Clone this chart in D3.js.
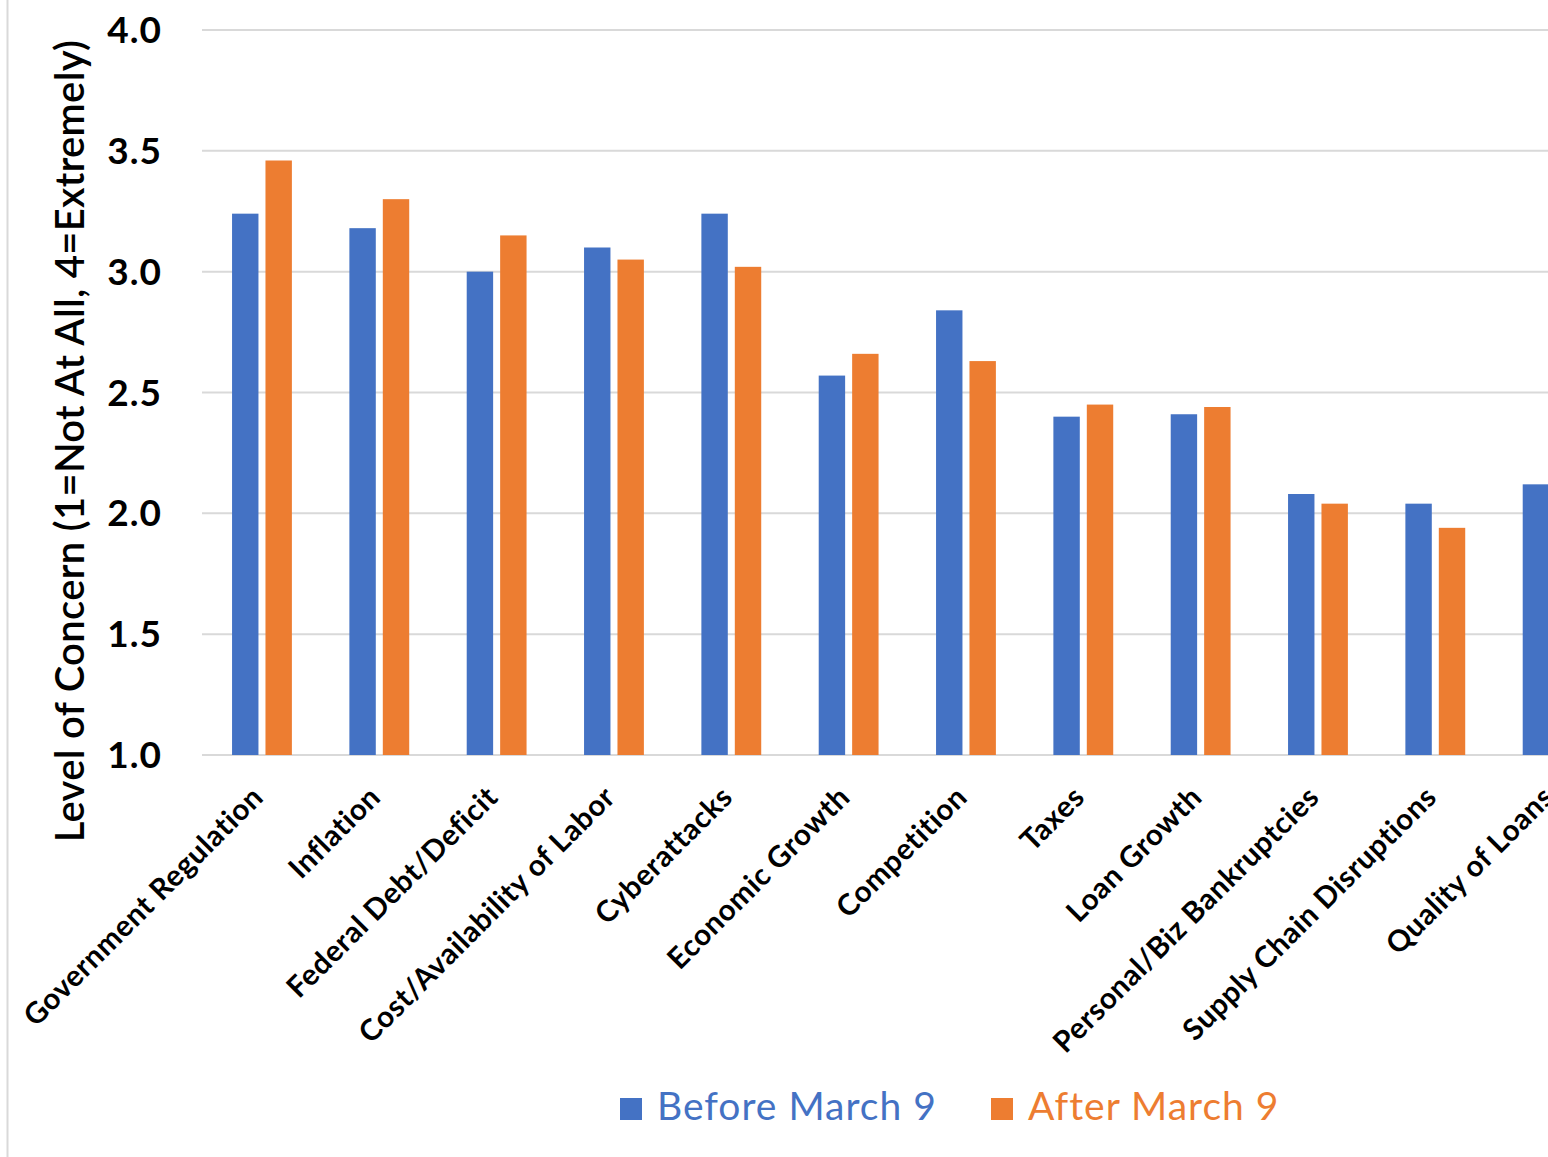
<!DOCTYPE html>
<html>
<head>
<meta charset="utf-8">
<script src="https://cdn.jsdelivr.net/npm/d3@7"></script>
<style>
  html, body { margin: 0; padding: 0; background: #fff; }
  svg { display: block; font-family: Lato, "Open Sans", sans-serif; }
</style>
</head>
<body>
<svg id="chart" width="1548" height="1157"></svg>
<script>
const categories = [
  "Government Regulation", "Inflation", "Federal Debt/Deficit", "Cost/Availability of Labor",
  "Cyberattacks", "Economic Growth", "Competition", "Taxes", "Loan Growth",
  "Personal/Biz Bankruptcies", "Supply Chain Disruptions", "Quality of Loans"
];
const beforeMarch9 = [3.24, 3.18, 3.00, 3.10, 3.24, 2.57, 2.84, 2.40, 2.41, 2.08, 2.04, 2.12];
const afterMarch9  = [3.46, 3.30, 3.15, 3.05, 3.02, 2.66, 2.63, 2.45, 2.44, 2.04, 1.94, 2.05];
const seriesNames = ["Before March 9", "After March 9"];
const seriesColors = ["#4472C4", "#ED7D31"];
const yTicks = [1.0, 1.5, 2.0, 2.5, 3.0, 3.5, 4.0];
const yTitle = "Level of Concern (1=Not At All, 4=Extremely)";

const svg = d3.select("#chart");

// frame line on the left
svg.append("line").attr("x1", 7.5).attr("x2", 7.5).attr("y1", 0).attr("y2", 1157)
  .attr("stroke", "#d9d9d9").attr("stroke-width", 2);

const y = d3.scaleLinear().domain([1, 4]).range([755, 30]);
const x = d3.scaleBand().domain(categories).range([203.3, 1611.3])
  .paddingInner(0.49).paddingOuter(0.245);
const xs = d3.scaleBand().domain(seriesNames).range([0, x.bandwidth()]).paddingInner(0.21);

// gridlines
svg.append("g").selectAll("line").data(yTicks).join("line")
  .attr("x1", 202).attr("x2", 1620)
  .attr("y1", d => y(d)).attr("y2", d => y(d))
  .attr("stroke", "#d9d9d9").attr("stroke-width", 2);

// y tick labels
const yAxis = d3.axisLeft(y).tickValues(yTicks).tickFormat(d3.format(".1f")).tickSize(0).tickPadding(0);
const gy = svg.append("g").attr("transform", "translate(162,0)").call(yAxis);
gy.select(".domain").remove();
gy.selectAll("text").attr("font-family", "Lato, sans-serif").attr("font-size", 37)
  .attr("font-weight", "bold").attr("fill", "#000").attr("dy", "0.34em")
  .attr("letter-spacing", 1);

// bars
const rows = categories.map((c, i) => ({ cat: c, vals: [beforeMarch9[i], afterMarch9[i]] }));
const groups = svg.append("g").selectAll("g").data(rows).join("g")
  .attr("transform", d => `translate(${x(d.cat)},0)`);
groups.selectAll("rect").data(d => d.vals.map((v, j) => ({ name: seriesNames[j], v, j })))
  .join("rect")
  .attr("x", d => xs(d.name))
  .attr("width", xs.bandwidth())
  .attr("y", d => y(d.v))
  .attr("height", d => y(1) - y(d.v))
  .attr("fill", d => seriesColors[d.j]);

// x category labels
const xAxis = d3.axisBottom(x).tickSize(0).tickPadding(0);
const gx = svg.append("g").attr("transform", "translate(0,755)").call(xAxis);
gx.select(".domain").remove();
gx.selectAll("text")
  .attr("font-family", "Lato, sans-serif").attr("font-size", 29.5).attr("font-weight", "bold")
  .attr("letter-spacing", 0.6)
  .attr("fill", "#000").attr("text-anchor", "end").attr("y", 0).attr("dy", 0)
  .attr("transform", "translate(3,44) rotate(-45)");

// y title
svg.append("text").attr("transform", "translate(84,441) rotate(-90)")
  .attr("text-anchor", "middle").attr("font-size", 40).attr("font-weight", 600)
  .attr("letter-spacing", 0.3)
  .attr("fill", "#000").text(yTitle);

// legend
const legendX = [620, 991];
const lg = svg.append("g").selectAll("g").data(seriesNames).join("g")
  .attr("transform", (d, i) => `translate(${legendX[i]},0)`);
lg.append("rect").attr("x", 0).attr("y", 1098).attr("width", 22).attr("height", 22)
  .attr("fill", (d, i) => seriesColors[i]);
lg.append("text").attr("x", 37).attr("y", 1120).attr("font-size", 39)
  .attr("letter-spacing", 1)
  .attr("fill", (d, i) => seriesColors[i]).text(d => d);
</script>
</body>
</html>
